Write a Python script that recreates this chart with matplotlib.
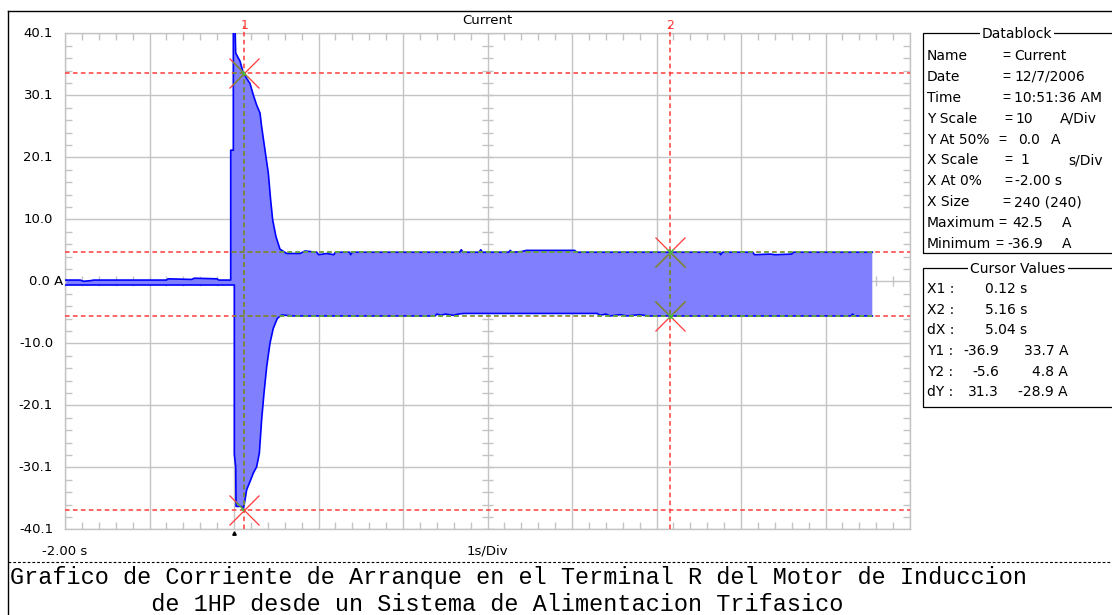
import numpy as np
import matplotlib
matplotlib.use("Agg")
import matplotlib.pyplot as plt
import matplotlib.transforms as mtransforms
from matplotlib.patches import Polygon, Rectangle
from matplotlib.lines import Line2D

# ---------------- data ----------------
time_upper = [-2.00, -1.82, -1.78, -1.70, -1.66, -0.80, -0.78, -0.50, -0.47, -0.20, -0.18,
              -0.039, -0.039, -0.008, -0.008, 0.010, 0.020, 0.032, 0.071, 0.110, 0.150,
              0.189, 0.229, 0.268, 0.308, 0.327, 0.367, 0.406, 0.434, 0.458, 0.497, 0.544,
              0.623, 0.781, 0.840, 0.98, 1.00, 1.10, 1.18, 1.20, 1.37, 1.38, 1.40, 2.67,
              2.69, 2.71, 2.90, 2.92, 2.94, 3.25, 3.27, 3.29, 3.40, 3.46, 4.03, 4.06, 5.74,
              5.76, 5.78, 6.14, 6.16, 6.35, 6.40, 6.60, 6.62, 7.554]
current_upper = [0.2, 0.2, 0.0, 0.1, 0.2, 0.2, 0.4, 0.3, 0.5, 0.4, 0.2,
                 0.2, 21.2, 21.2, 42.5, 42.5, 36.9, 36.6, 35.6, 33.7, 32.8,
                 32.0, 30.1, 28.5, 27.2, 25.0, 21.2, 17.5, 13.1, 9.9, 7.2, 5.2,
                 4.5, 4.5, 4.9, 4.7, 4.3, 4.5, 4.3, 4.7, 4.7, 4.3, 4.7, 4.7,
                 5.1, 4.7, 4.7, 5.1, 4.7, 4.7, 5.0, 4.7, 4.8, 5.0, 5.0, 4.7, 4.7,
                 4.3, 4.7, 4.7, 4.3, 4.4, 4.3, 4.4, 4.7, 4.7]
time_lower = [-2.00, 0.004, 0.004, 0.020, 0.024, 0.091, 0.110, 0.130, 0.150, 0.189, 0.229,
              0.268, 0.300, 0.327, 0.355, 0.387, 0.426, 0.465, 0.513, 0.564, 0.70, 2.38,
              2.40, 2.45, 2.50, 2.60, 2.65, 2.72, 4.30, 4.33, 4.40, 4.45, 4.57, 4.65, 4.80,
              4.90, 7.30, 7.32, 7.34, 7.554]
current_lower = [-0.6, -0.6, -28.0, -30.0, -36.4, -36.4, -36.9, -35.4, -33.7, -32.4, -31.0,
                 -30.0, -27.8, -22.4, -18.1, -13.8, -10.0, -7.6, -6.0, -5.45, -5.6, -5.6,
                 -5.3, -5.5, -5.3, -5.5, -5.3, -5.2, -5.2, -5.5, -5.3, -5.6, -5.4, -5.6, -5.4,
                 -5.6, -5.6, -5.3, -5.6, -5.6]

x_start, x_per_div, n_xdiv = -2.00, 1.0, 10
y_half, n_ydiv = 40.1, 8
y_tick_labels = ["-40.1", "-30.1", "-20.1", "-10.0", "0.0 A", "10.0", "20.1", "30.1", "40.1"]
trigger_time = 0.0

cursor_x = [0.12, 5.16]
cursor_y1 = [-36.9, 33.7]
cursor_y2 = [-5.6, 4.8]

db_labels = ["Name", "Date", "Time", "Y Scale", "Y At 50%", "X Scale", "X At 0%",
             "X Size", "Maximum", "Minimum"]
db_values = ["Current", "12/7/2006", "10:51:36 AM", "10", "0.0", "1", "-2.00 s",
             "240 (240)", "42.5", "-36.9"]
db_units = ["", "", "", "A/Div", "A", "s/Div", "", "", "A", "A"]

caption = ["Grafico de Corriente de Arranque en el Terminal R del Motor de Induccion",
           "          de 1HP desde un Sistema de Alimentacion Trifasico"]

# ---------------- layout helpers ----------------
W, H = 1112, 615
fig = plt.figure(figsize=(W / 100, H / 100), dpi=100)
fig.patch.set_facecolor("white")


def fx(x):
    return x / W


def fy(y):
    return 1 - y / H


UI = "DejaVu Sans"
GRID = "#c4c4c4"
RED = "#ff3a3a"
OLIVE = "#7f7f45"
GREEN = "#3cc03c"

ax_left, ax_top, ax_right, ax_bottom = 65, 33.3, 910, 529.3
ax = fig.add_axes([fx(ax_left), fy(ax_bottom), (ax_right - ax_left) / W,
                   (ax_bottom - ax_top) / H])
x_end = x_start + n_xdiv * x_per_div
ax.set_xlim(x_start, x_end)
ax.set_ylim(-y_half, y_half)
ax.set_xticks(np.linspace(x_start, x_end, n_xdiv + 1))
ytick_vals = np.linspace(-y_half, y_half, n_ydiv + 1)
ax.set_yticks(ytick_vals)
x_minor = np.linspace(x_start, x_end, n_xdiv * 5 + 1)
y_minor = np.linspace(-y_half, y_half, n_ydiv * 5 + 1)
ax.set_xticks(x_minor, minor=True)
ax.set_yticks(y_minor, minor=True)
ax.tick_params(which="both", labelleft=False, labelbottom=False)
ax.tick_params(which="major", length=0)
ax.tick_params(which="minor", direction="in", length=5, width=1, color=GRID,
               top=True, bottom=True, left=True, right=True)
ax.grid(True, which="major", color=GRID, lw=1)
ax.set_axisbelow(True)
for s in ax.spines.values():
    s.set_color(GRID)
    s.set_linewidth(1)

# center graticule cross ticks
x_mid = (x_start + x_end) / 2
ax.vlines(x_minor, -0.8, 0.8, color=GRID, lw=1, zorder=1)
ax.hlines(y_minor, x_mid - 0.06, x_mid + 0.06, color=GRID, lw=1, zorder=1)

# ---------------- waveform envelope ----------------
up = np.column_stack([time_upper, current_upper])
lo = np.column_stack([time_lower, current_lower])
verts = np.vstack([up, lo[::-1]])
ax.fill(verts[:, 0], verts[:, 1], color="#8080ff", lw=0, zorder=2)
ax.plot(time_upper, current_upper, color="#0000ff", lw=1.2, zorder=3)
ax.plot(time_lower, current_lower, color="#0000ff", lw=1.2, zorder=3)

outer_verts = np.vstack([up + np.array([0, 0.5]), (lo - np.array([0, 0.5]))[::-1]])
inner_verts = np.vstack([up - np.array([0, 0.4]), (lo + np.array([0, 0.4]))[::-1]])
outer_clip = Polygon(outer_verts, closed=True, transform=ax.transData)
inner_clip = Polygon(inner_verts, closed=True, transform=ax.transData)

DASH = (0, (3, 2.2))


def draw_cursors(color, zorder, clip=None):
    arts = []
    for cx in cursor_x:
        arts.append(ax.axvline(cx, ymin=0, ymax=1.015, color=color, lw=1.1, ls=DASH,
                               zorder=zorder, clip_on=clip is not None))
    for cy in cursor_y1 + cursor_y2:
        arts.append(ax.axhline(cy, color=color, lw=1.1, ls=DASH, zorder=zorder))
    for cx, ys in zip(cursor_x, [cursor_y1, cursor_y2]):
        arts += ax.plot([cx] * len(ys), ys, ls="none", marker="x", ms=22, mew=0.9,
                        color=color, zorder=zorder)
    if clip is not None:
        for a in arts:
            a.set_clip_path(clip)


draw_cursors(RED, 4)
draw_cursors(GREEN, 5, outer_clip)
draw_cursors(OLIVE, 6, inner_clip)

for i, cx in enumerate(cursor_x):
    ax.annotate(str(i + 1), xy=(cx, 1), xycoords=("data", "axes fraction"),
                xytext=(0, 8), textcoords="offset pixels", ha="center", va="center",
                color=RED, fontsize=9, family=UI, annotation_clip=False)

# trigger marker
ax.plot([trigger_time], [0], transform=mtransforms.offset_copy(
    ax.get_xaxis_transform(), fig=fig, x=0, y=-4, units="dots"),
    marker="^", ms=2.5, color="black", clip_on=False, zorder=7)

# title & axis labels
ax.annotate("Current", xy=(0.5, 1), xycoords="axes fraction", xytext=(0, 13),
            textcoords="offset pixels", ha="center", va="center", fontsize=9.5, family=UI)
for yv, lab in zip(ytick_vals, y_tick_labels):
    off = -2 if lab.endswith("A") else -12
    ax.annotate(lab, xy=(0, yv), xycoords=("axes fraction", "data"), xytext=(off, 0),
                textcoords="offset pixels", ha="right", va="center", fontsize=9.5,
                family=UI, annotation_clip=False)
ax.annotate(f"{x_start:.2f} s", xy=(0, 0), xycoords="axes fraction", xytext=(0, -22),
            textcoords="offset pixels", ha="center", va="center", fontsize=9.5, family=UI)
ax.annotate(f"{x_per_div:g}s/Div", xy=(0.5, 0), xycoords="axes fraction", xytext=(0, -22),
            textcoords="offset pixels", ha="center", va="center", fontsize=9.5, family=UI)

# ---------------- outer frame ----------------
fig.add_artist(Line2D([fx(8), fx(8)], [fy(11), fy(H + 2)], transform=fig.transFigure,
                      color="black", lw=1))
fig.add_artist(Line2D([fx(8), fx(W + 2)], [fy(11), fy(11)], transform=fig.transFigure,
                      color="black", lw=1))
fig.add_artist(Line2D([fx(8), fx(W + 2)], [fy(562), fy(562)], transform=fig.transFigure,
                      color="black", lw=0.8, ls=(0, (2.5, 1.8))))

# ---------------- datablock ----------------
FS = 10
HALF_CAP = 5.0


def txt(x, yc, s, ha="left", family=UI, **kw):
    fig.text(fx(x), fy(yc + HALF_CAP), s, ha=ha, va="baseline", fontsize=FS,
             family=family, **kw)


fig.add_artist(Rectangle((fx(923), fy(253)), (W + 10 - 923) / W, (253 - 33) / H,
                         transform=fig.transFigure, fill=False, ec="black", lw=0.9))
txt(1017, 33, "Datablock", ha="center", bbox=dict(fc="white", ec="none", pad=1.5))
eq_x = [1002, 1002, 1002, 1004, 998, 1004, 1004, 1002, 998, 995]
val_x = [1014, 1014, 1014, 1033, 1040, 1029, 1015, 1014, 1043, 1043]
val_ha = ["left", "left", "left", "right", "right", "right", "left", "left", "right", "right"]
unit_x = [0, 0, 0, 1060, 1051, 1068, 0, 0, 1062, 1062]
for i, lab in enumerate(db_labels):
    yy = 55 + 20.9 * i
    txt(927, yy, lab)
    txt(eq_x[i], yy, "=", family="Liberation Sans")
    txt(val_x[i], yy, db_values[i], ha=val_ha[i])
    if db_units[i]:
        txt(unit_x[i], yy, db_units[i])

# ---------------- cursor values ----------------
fig.add_artist(Rectangle((fx(923), fy(407)), (W + 10 - 923) / W, (407 - 268) / H,
                         transform=fig.transFigure, fill=False, ec="black", lw=0.9))
txt(1018, 268, "Cursor Values", ha="center", bbox=dict(fc="white", ec="none", pad=1.5))
dx = cursor_x[1] - cursor_x[0]
dy = [b - a for a, b in zip(cursor_y1, cursor_y2)]
rows_x = [("X1 :", f"{cursor_x[0]:.2f} s"), ("X2 :", f"{cursor_x[1]:.2f} s"),
          ("dX :", f"{dx:.2f} s")]
rows_y = [("Y1 :", cursor_y1), ("Y2 :", cursor_y2), ("dY :", dy)]
for i, (lab, val) in enumerate(rows_x):
    yy = 288 + 20.7 * i
    txt(927, yy, lab)
    txt(1027, yy, val, ha="right")
for i, (lab, vals) in enumerate(rows_y):
    yy = 288 + 20.7 * (i + 3)
    txt(927, yy, lab)
    txt(999, yy, f"{vals[0]:.1f}", ha="right")
    txt(1068, yy, f"{vals[1]:.1f} A", ha="right")

# ---------------- caption ----------------
for i, line in enumerate(caption):
    fig.text(fx(10), fy(584 + 27 * i), line, ha="left", va="baseline",
             family="Liberation Mono", fontsize=16.9)

fig.savefig("out.png", dpi=100)
